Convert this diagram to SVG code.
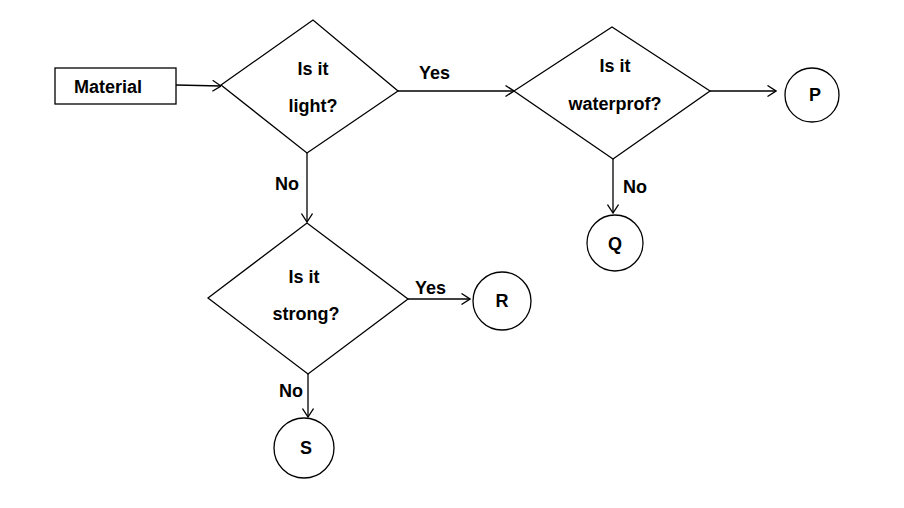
<svg xmlns="http://www.w3.org/2000/svg" width="904" height="508" viewBox="0 0 904 508">
<defs>
<style>
.s{fill:#fff;stroke:#000;stroke-width:1.3}
.c{fill:none;stroke:#000;stroke-width:1.3}
.t{font-family:"Liberation Sans",Arial,sans-serif;font-weight:bold;font-size:18px;fill:#000;text-anchor:middle}
.l{font-family:"Liberation Sans",Arial,sans-serif;font-weight:bold;font-size:18px;fill:#000}
</style>
<marker id="a" viewBox="0 0 10 12" refX="9.5" refY="6" markerWidth="10" markerHeight="12" markerUnits="userSpaceOnUse" orient="auto">
<path d="M1,0.5 L9.5,6 L1,11.5" fill="none" stroke="#000" stroke-width="1.3"/>
</marker>
</defs>
<rect width="904" height="508" fill="#fff"/>
<g id="connectors">
<path class="c" d="M176,85 L221,86" marker-end="url(#a)"/>
<path class="c" d="M398,91 L514,91" marker-end="url(#a)"/>
<path class="c" d="M710,91 L776,91" marker-end="url(#a)"/>
<path class="c" d="M613,159 L613,213" marker-end="url(#a)"/>
<path class="c" d="M307,153 L307,222" marker-end="url(#a)"/>
<path class="c" d="M408,299 L470,299" marker-end="url(#a)"/>
<path class="c" d="M308,374 L308,417" marker-end="url(#a)"/>
<text class="l" x="419" y="79">Yes</text>
<text class="l" x="623" y="193">No</text>
<text class="l" x="275" y="190">No</text>
<text class="l" x="415" y="294">Yes</text>
<text class="l" x="279" y="397">No</text>
</g>
<g id="material">
<rect class="s" x="55" y="68" width="121" height="36"/>
<text class="t" x="108" y="93">Material</text>
</g>
<g id="light">
<polygon class="s" points="221,85 313,20 398,91 307,153"/>
<text class="t" x="313" y="75">Is it</text>
<text class="t" x="313" y="112">light?</text>
</g>
<g id="waterprof">
<polygon class="s" points="514,91 612,27 710,91 613,159"/>
<text class="t" x="615" y="72">Is it</text>
<text class="t" x="615" y="110">waterprof?</text>
</g>
<g id="strong">
<polygon class="s" points="208,298 307,223 408,299 308,374"/>
<text class="t" x="304" y="283">Is it</text>
<text class="t" x="306" y="320">strong?</text>
</g>
<g id="P">
<circle class="s" cx="812" cy="95" r="27"/>
<text class="t" x="815" y="101">P</text>
</g>
<g id="Q">
<circle class="s" cx="615" cy="243" r="28"/>
<text class="t" x="615" y="250">Q</text>
</g>
<g id="R">
<circle class="s" cx="502" cy="301" r="29"/>
<text class="t" x="502" y="307">R</text>
</g>
<g id="S">
<circle class="s" cx="304" cy="448" r="30"/>
<text class="t" x="306" y="454">S</text>
</g>
</svg>
